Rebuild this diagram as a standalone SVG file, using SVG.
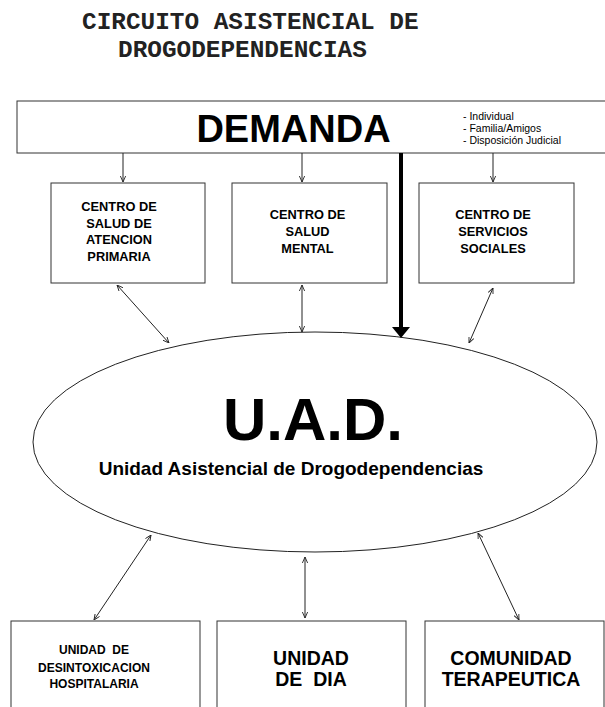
<svg xmlns="http://www.w3.org/2000/svg" width="605" height="707" viewBox="0 0 605 707">
<style>
.title{font-family:"Liberation Mono","Courier New",monospace;font-weight:bold;font-size:24.4px;fill:#222}
.box{fill:#fff;stroke:#333;stroke-width:1}
.t{font-family:"Liberation Sans",Arial,sans-serif;font-weight:bold;fill:#000;text-anchor:middle}
.small{font-family:"Liberation Sans",Arial,sans-serif;font-size:10.5px;fill:#000}
.c{stroke:#222;stroke-width:1;fill:none;marker-end:url(#ah)}
.cb{stroke:#222;stroke-width:1;fill:none;marker-start:url(#ah);marker-end:url(#ah)}
</style>
<defs>
<marker id="ah" viewBox="0 0 8 8" refX="8" refY="4" markerWidth="6" markerHeight="6" markerUnits="userSpaceOnUse" orient="auto-start-reverse">
<path d="M0,0.5 L8,4 L0,7.5" fill="none" stroke="#222" stroke-width="1.2"/>
</marker>
</defs>
<rect width="605" height="707" fill="#fff"/>
<g id="title">
<text class="title" x="82" y="29">CIRCUITO ASISTENCIAL DE</text>
<text class="title" x="118" y="57">DROGODEPENDENCIAS</text>
</g>
<g id="demanda">
<rect class="box" x="17" y="101" width="600" height="52"/>
<text class="t" x="293.5" y="142" font-size="38">DEMANDA</text>
<text class="small" x="463" y="120">- Individual</text>
<text class="small" x="463" y="132">- Familia/Amigos</text>
<text class="small" x="463" y="144">- Disposición Judicial</text>
</g>
<g id="csap">
<rect class="box" x="51" y="183" width="154" height="100"/>
<text class="t" font-size="12.8" x="119" y="211">CENTRO DE</text>
<text class="t" font-size="12.8" x="119" y="227.5">SALUD DE</text>
<text class="t" font-size="12.8" x="119" y="244">ATENCION</text>
<text class="t" font-size="12.8" x="119" y="261">PRIMARIA</text>
</g>
<g id="csm">
<rect class="box" x="232" y="183" width="155" height="100"/>
<text class="t" font-size="12.8" x="307.5" y="219">CENTRO DE</text>
<text class="t" font-size="12.8" x="307.5" y="235.5">SALUD</text>
<text class="t" font-size="12.8" x="307.5" y="252.5">MENTAL</text>
</g>
<g id="css">
<rect class="box" x="419" y="183" width="155" height="100"/>
<text class="t" font-size="12.8" x="493" y="219">CENTRO DE</text>
<text class="t" font-size="12.8" x="493" y="235.5">SERVICIOS</text>
<text class="t" font-size="12.8" x="493" y="252.5">SOCIALES</text>
</g>
<g id="uad">
<ellipse cx="315" cy="442" rx="282" ry="110" fill="#fff" stroke="#222" stroke-width="1"/>
<text class="t" x="313" y="440" font-size="60">U.A.D.</text>
<text class="t" x="291" y="475" font-size="19">Unidad Asistencial de Drogodependencias</text>
</g>
<g id="udh">
<rect class="box" x="11" y="621" width="189" height="100"/>
<text class="t" font-size="12" x="94" y="654" xml:space="preserve">UNIDAD  DE</text>
<text class="t" font-size="12" x="94" y="671.5">DESINTOXICACION</text>
<text class="t" font-size="12" x="94" y="688">HOSPITALARIA</text>
</g>
<g id="udd">
<rect class="box" x="217" y="621" width="189" height="100"/>
<text class="t" font-size="19.5" x="311" y="665">UNIDAD</text>
<text class="t" font-size="19.5" x="311" y="686" xml:space="preserve">DE  DIA</text>
</g>
<g id="ct">
<rect class="box" x="425" y="621" width="179" height="100"/>
<text class="t" font-size="19.5" x="511" y="665">COMUNIDAD</text>
<text class="t" font-size="19.5" x="511" y="686">TERAPEUTICA</text>
</g>
<g id="connectors">
<line class="c" x1="123" y1="153" x2="123" y2="182"/>
<line class="c" x1="302" y1="153" x2="302" y2="182"/>
<line class="c" x1="493" y1="153" x2="493" y2="182"/>
<line x1="401" y1="153" x2="401" y2="329" stroke="#000" stroke-width="4"/>
<polygon points="392,327 410,327 401,338" fill="#000"/>
<line class="cb" x1="117" y1="285" x2="169" y2="343"/>
<line class="cb" x1="302" y1="285" x2="302" y2="332"/>
<line class="cb" x1="493" y1="288" x2="469" y2="343"/>
<line class="cb" x1="151" y1="535" x2="94" y2="620"/>
<line class="cb" x1="305" y1="557" x2="305" y2="618"/>
<line class="cb" x1="478" y1="533" x2="519" y2="620"/>
</g>
</svg>
